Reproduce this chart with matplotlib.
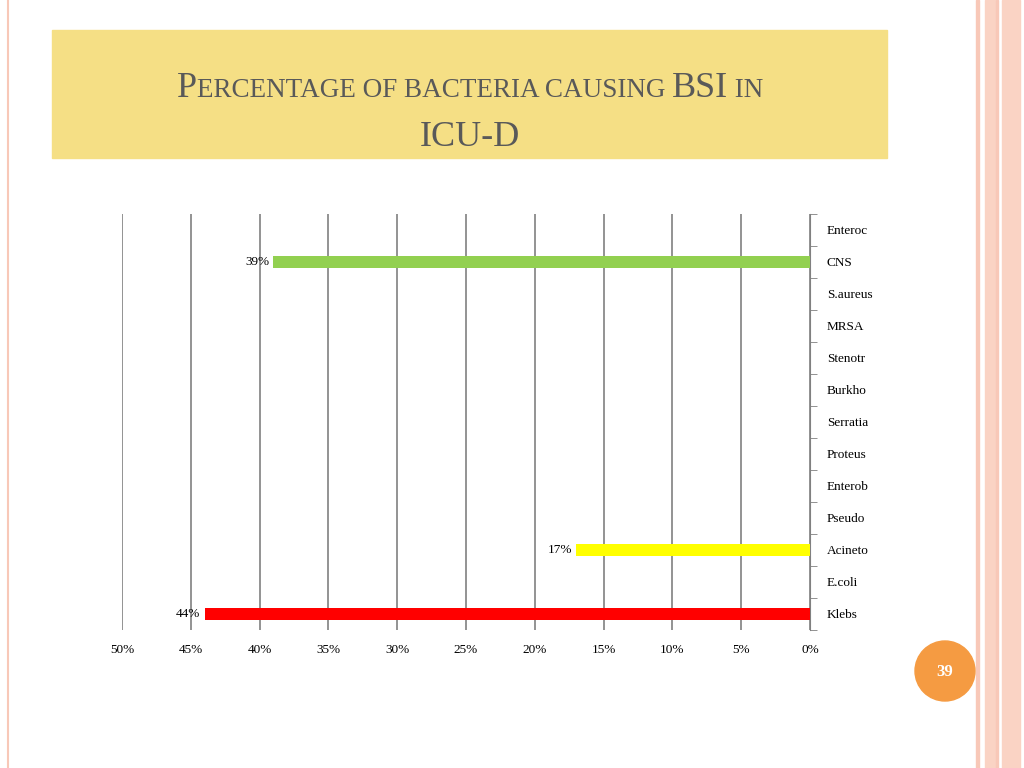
import matplotlib
matplotlib.use("Agg")
import matplotlib.pyplot as plt
from matplotlib.patches import Rectangle, Circle

categories = ["Enteroc", "CNS", "S.aureus", "MRSA", "Stenotr", "Burkho", "Serratia",
              "Proteus", "Enterob", "Pseudo", "Acineto", "E.coli", "Klebs"]
values = [0, 39, 0, 0, 0, 0, 0, 0, 0, 0, 17, 0, 44]
colors = ["#92D050", "#92D050", "#92D050", "#92D050", "#92D050", "#92D050", "#92D050",
          "#92D050", "#92D050", "#92D050", "#FFFF00", "#92D050", "#FF0000"]
xticks = [50, 45, 40, 35, 30, 25, 20, 15, 10, 5, 0]

W, H = 1024, 768
fig = plt.figure(figsize=(10.24, 7.68), dpi=100)
fig.patch.set_facecolor("white")
serif = "Liberation Serif"

# decorations
bg = fig.add_axes([0, 0, 1, 1]); bg.set_xlim(0, W); bg.set_ylim(H, 0); bg.axis("off")
bg.add_patch(Rectangle((52, 30), 835, 128, color="#F5DF85", zorder=0))
bg.plot([8, 8], [0, H], color="#F8C8B8", lw=1.5)
for x0, w, c in [(976, 3, "#F8C8B8"), (985, 10, "#FAD3C4"), (996, 2, "#F8C8B8"), (1002, 18, "#FAD3C4")]:
    bg.add_patch(Rectangle((x0, 0), w, H, color=c, zorder=0))
bg.add_patch(Circle((945, 671), 30, color="#F59B42", zorder=2))
bg.text(945, 672, "39", ha="center", va="center", color="white", fontsize=12, fontweight="bold", family=serif, zorder=3)

# small-caps title
def smallcaps(parts, cx, y):
    r = fig.canvas.get_renderer()
    texts = []
    for s, fs in parts:
        texts.append(bg.text(0, y, s, fontsize=fs, family=serif, color="#595959", va="baseline"))
    widths = [t.get_window_extent(r).width for t in texts]
    x = cx - sum(widths) / 2
    for t, w in zip(texts, widths):
        t.set_x(x); x += w
big, small = 26, 19.5
smallcaps([("P", big), ("ERCENTAGE OF BACTERIA CAUSING ", small), ("BSI", big), (" IN", small)], 470, 97)
smallcaps([("ICU-D", big)], 470, 146)

# chart
ax = fig.add_axes([122 / W, 1 - 630 / H, (810 - 122) / W, (630 - 214) / H])
n = len(categories)
ypos = [n - 1 - i for i in range(n)]
ax.barh(ypos, values, height=0.4, color=colors, zorder=3)
for y, v in zip(ypos, values):
    if v:
        ax.text(v + 0.3, y, f"{v}%", ha="right", va="center", fontsize=9.5, family=serif, zorder=4)
ax.set_xlim(50, 0)
ax.set_ylim(-0.5, n - 0.5)
ax.set_xticks(xticks)
ax.set_xticklabels([f"{t}%" for t in xticks], family=serif, fontsize=9.5)
ax.tick_params(axis="x", length=0, pad=10)
ax.grid(axis="x", color="#808080", lw=1.2, zorder=0)
ax.yaxis.tick_right()
ax.set_yticks(ypos)
ax.set_yticklabels(categories, family=serif, fontsize=9.5)
ax.tick_params(axis="y", length=0, pad=12)
ax.set_yticks([i + 0.5 for i in range(-1, n)], minor=True)
ax.tick_params(axis="y", which="minor", length=5, color="#808080", right=True, left=False, direction="out")
for s in ["top", "left", "bottom"]:
    ax.spines[s].set_visible(False)
ax.spines["right"].set_color("#808080")
ax.set_facecolor("none")

fig.savefig("out.png", dpi=100)
